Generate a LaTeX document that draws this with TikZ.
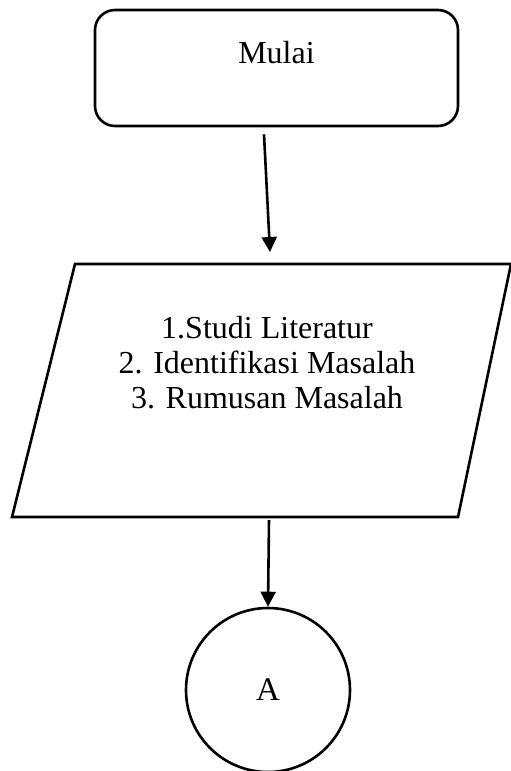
\documentclass[tikz,border=0pt]{standalone}
\usepackage{fontspec}
\setmainfont{Liberation Serif}
\usetikzlibrary{arrows.meta,calc}
\tikzset{
  shapeline/.style={draw=black, line width=2.6pt},
  flowarrow/.style={line width=2.6pt, -{Triangle[width=15pt,length=15pt]}},
  bigtext/.style={font=\fontsize{32}{35}\selectfont, align=center}
}
\begin{document}
\begin{tikzpicture}[x=1pt,y=-1pt]
\useasboundingbox (0,0) rectangle (511,771);
% start terminator
\node[shapeline, rectangle, rounded corners=20pt, minimum width=363pt, minimum height=116pt, inner sep=0pt,
      label={[bigtext, yshift=15pt]center:Mulai}] (start) at (276.5,68) {};
% input parallelogram
\coordinate (ptl) at (75,264);
\coordinate (ptr) at (511,264);
\coordinate (pbr) at (458,517);
\coordinate (pbl) at (12,517);
\draw[shapeline, line join=miter] (ptl) -- (ptr) -- (pbr) -- (pbl) -- cycle;
\node[bigtext, inner sep=0pt] (input) at (267,363) {1.Studi Literatur\\2. Identifikasi Masalah\\3. Rumusan Masalah};
% connector circle
\node[shapeline, circle, minimum size=164pt, inner sep=0pt, font=\fontsize{33}{36}\selectfont] (conA) at (268,690) {A};
% connectors
\coordinate (a1s) at ($(start.south)+(-12.5,7)$);
\coordinate (a1e) at (270,252);
\draw[flowarrow] (a1s) -- (a1e);
\coordinate (a2s) at (269,520);
\draw[flowarrow] (a2s) -- (conA.north);
\end{tikzpicture}
\end{document}
